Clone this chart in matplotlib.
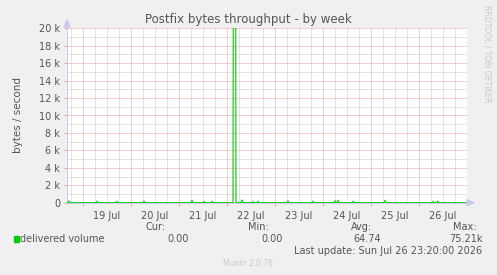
import matplotlib
matplotlib.use("Agg")
import matplotlib.pyplot as plt
import numpy as np

# ---- data (hours since 18 Jul 00:00, 30-min samples) ----
sample_hours = [17.0, 31.0, 41.0, 54.5, 78.5, 84.5, 88.5, 99.5, 100.0, 103.5, 109.0, 111.5,
                126.5, 139.0, 150.0, 151.5, 159.0, 175.0, 199.0, 201.5]
sample_values = [220, 180, 170, 200, 260, 160, 170, 75210, 75210, 320, 150, 170,
                 230, 180, 220, 280, 170, 270, 160, 190]
start_hour = 16.0
end_hour = 216.0
day_labels = ["19 Jul", "20 Jul", "21 Jul", "22 Jul", "23 Jul", "24 Jul", "25 Jul", "26 Jul"]
ytick_values = [0, 2000, 4000, 6000, 8000, 10000, 12000, 14000, 16000, 18000, 20000]
ytick_labels = ["0", "2 k", "4 k", "6 k", "8 k", "10 k", "12 k", "14 k", "16 k", "18 k", "20 k"]
legend_name = "delivered volume"
stat_cur, stat_min, stat_avg, stat_max = "0.00", "0.00", "64.74", "75.21k"

# build series on a 30-min grid
t = np.arange(start_hour, end_hour + 0.5, 0.5)
v = np.zeros_like(t)
for h, val in zip(sample_hours, sample_values):
    v[int(round((h - start_hour) / 0.5))] = val

W, H = 497, 275
fig = plt.figure(figsize=(W / 100, H / 100), dpi=100, facecolor="#F0F0F0")
ax = fig.add_axes([67 / W, (H - 202.7) / H, 400 / W, 174.4 / H])
ax.set_facecolor("white")
ax.set_xlim(start_hour, end_hour)
ax.set_ylim(0, 20000)

minor_c = "#C8C8C8"
major_c = "#EDA0A0"
dots = (0, (1, 1))
for x in np.arange(18, 216, 6):
    if x % 24 != 0:
        ax.axvline(x, color=minor_c, lw=0.72, ls=dots, zorder=1)
for y in range(1000, 20001, 2000):
    ax.axhline(y, color=minor_c, lw=0.72, ls=dots, zorder=1)
for x in range(24, 216, 24):
    ax.axvline(x, color=major_c, lw=0.72, ls=dots, zorder=1.2)
for y in range(2000, 20001, 2000):
    ax.axhline(y, color=major_c, lw=0.72, ls=dots, zorder=1.2)

ax.plot(t, v, color="#00CC00", lw=0.8, zorder=3)

for s in ["top", "right"]:
    ax.spines[s].set_visible(False)
ax.spines["left"].set_color("#C8C8F0")
ax.spines["bottom"].set_color("#C8C8F0")
ax.spines["left"].set_linewidth(0.7)
ax.spines["bottom"].set_linewidth(0.7)

ax.set_xticks(range(24, 216, 24))
ax.set_xticklabels([])
ax.set_xticks([24 * i + 36 for i in range(len(day_labels))], minor=True)
ax.set_xticklabels(day_labels, minor=True)
ax.tick_params(axis="x", which="major", length=2, color=major_c, width=0.7)
ax.tick_params(axis="x", which="minor", length=0, pad=6, labelsize=7, labelcolor="#555555")
ax.set_yticks(ytick_values)
ax.set_yticklabels(ytick_labels)
ax.tick_params(axis="y", length=2, color=major_c, width=0.7, labelsize=7, labelcolor="#555555", pad=3)

# axis arrows
fig.patches.append(plt.Polygon([[64 / W, (H - 27) / H], [70 / W, (H - 27) / H], [67 / W, (H - 20) / H]],
                               closed=True, color="#C8C8F0", transform=fig.transFigure))
fig.patches.append(plt.Polygon([[467 / W, (H - 199.7) / H], [467 / W, (H - 205.7) / H], [474 / W, (H - 202.7) / H]],
                               closed=True, color="#C8C8F0", transform=fig.transFigure))

tc = "#555555"
fig.text(248 / W, 1 - 20 / H, "Postfix bytes throughput - by week", ha="center", va="center",
         fontsize=8.5, color=tc)
fig.text(18 / W, 1 - 115 / H, "bytes / second", rotation=90, ha="center", va="center",
         fontsize=7.5, color=tc)
fig.text(487 / W, 1 - 5 / H, "RRDTOOL / TOBI OETIKER", rotation=-90, ha="center", va="top",
         fontsize=5.5, color="#C8C8C8")

fig.patches.append(plt.Rectangle((14 / W, 1 - 242 / H), 5 / W, 6 / H, color="#00CC00",
                                 transform=fig.transFigure))
fig.text(20 / W, 1 - 239 / H, legend_name, ha="left", va="center", fontsize=7, color=tc)
for xr, lab in [(166, "Cur:"), (269, "Min:"), (372, "Avg:"), (476, "Max:")]:
    fig.text(xr / W, 1 - 227 / H, lab, ha="right", va="center", fontsize=7, color=tc)
for xr, val in [(189, stat_cur), (283, stat_min), (381, stat_avg), (483, stat_max)]:
    fig.text(xr / W, 1 - 239 / H, val, ha="right", va="center", fontsize=7, color=tc)
fig.text(482 / W, 1 - 251 / H, "Last update: Sun Jul 26 23:20:00 2026", ha="right", va="center",
         fontsize=7, color=tc)
fig.text(248 / W, 1 - 263 / H, "Munin 2.0.76", ha="center", va="center", fontsize=5.5, color="#C8C8C8")

fig.savefig("out.png", dpi=100, facecolor=fig.get_facecolor())
